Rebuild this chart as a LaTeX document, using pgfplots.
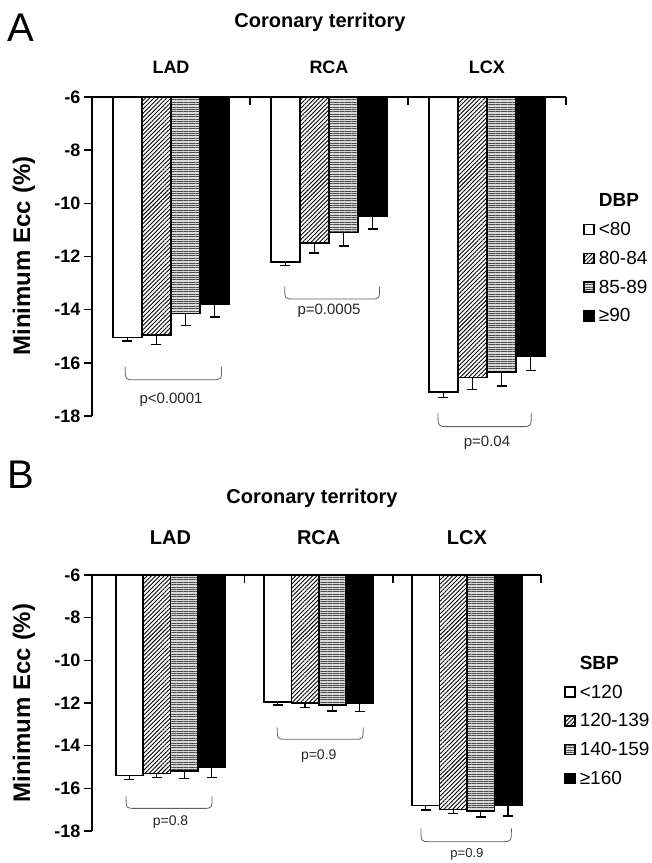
\documentclass[border=0pt]{standalone}
\usepackage{fontspec}
\setmainfont{Liberation Sans}
\usepackage{pgfplots}
\pgfplotsset{compat=1.18}
\usetikzlibrary{patterns.meta}
\newcommand\setfs[1]{\fontsize{#1}{#1}\selectfont}

\pgfplotsset{
  common/.style={
    scale only axis, anchor=south west,
    ybar, ymin=-18, ymax=-6,
    ytick={-18,-16,-14,-12,-10,-8,-6},
    yticklabels={-18,-16,-14,-12,-10,-8,-6},
    xtick={0.5,1.5,2.5}, xticklabels={},
    axis x line=top, axis y line=left,
    axis line style={-, line width=1.5pt},
    tick align=outside, major tick length=8pt,
    tick style={line width=1.5pt, black},
    xtick style={yshift=-8pt},
    yticklabel style={font=\bfseries\setfs{18}},
    clip mode=individual,
    error bars/y dir=minus, error bars/y explicit,
    error bars/error bar style={line width=1.3pt, black},
    error bars/error mark options={rotate=90, line width=1.3pt, mark size=5pt, black},
    legend cell align=left,
    legend style={draw=none, fill=none, font=\setfs{19}, row sep=10pt,
      nodes={inner xsep=4pt}},
    legend image code/.code={\draw[##1, line width=1.4pt] (0pt,-5pt) rectangle (10pt,5pt);},
  },
  s1/.style={draw=black, fill=white, line width=1.6pt},
  s2/.style={draw=black, fill=white, line width=1.6pt,
    postaction={pattern={Lines[angle=45,distance=3pt,line width=0.9pt]}}},
  s3/.style={draw=black, fill=gray!30, line width=1.6pt,
    postaction={pattern={Lines[angle=0,distance=2.4pt,line width=0.9pt]}, pattern color=gray!60!black}},
  s4/.style={draw=black, fill=black, line width=1.6pt},
}
% bracket: x1, x1+r, x2-r, x2, ytop, ybot
\newcommand\brk[6]{%
  \draw[gray!75!black, line width=0.8pt] (axis cs:#1,#5) .. controls (axis cs:#1,#6) .. (axis cs:#2,#6)
    -- (axis cs:#3,#6) .. controls (axis cs:#4,#6) .. (axis cs:#4,#5);}

\begin{document}
\begin{tikzpicture}
\path[use as bounding box] (0,0) rectangle (652pt,863pt);

% Panel A
\node[anchor=west, font=\setfs{40}] at (4pt,835pt) {A};
\node[font=\bfseries\setfs{20}] at (320pt,841pt) {Coronary territory};
\node[rotate=90, font=\bfseries\setfs{24}] at (24pt,607pt) {Minimum Ecc (\%)};
\begin{axis}[common, at={(92pt,447pt)}, width=474pt, height=319pt,
  xmin=-0.5, xmax=2.5, bar width=0.184,
  legend style={at={(axis description cs:1.03,0.71)}, anchor=north west}]
\addlegendimage{empty legend}\addlegendentry{\bfseries DBP}
\addplot[s1, bar shift=-0.276] coordinates {(0,-15.05) +- (0,0.13) (1,-12.2) +- (0,0.15) (2,-17.1) +- (0,0.2)};
\addlegendentry{<80}
\addplot[s2, bar shift=-0.092] coordinates {(0,-14.95) +- (0,0.35) (1,-11.5) +- (0,0.37) (2,-16.55) +- (0,0.45)};
\addlegendentry{80-84}
\addplot[s3, bar shift=0.092] coordinates {(0,-14.15) +- (0,0.45) (1,-11.1) +- (0,0.5) (2,-16.35) +- (0,0.52)};
\addlegendentry{85-89}
\addplot[s4, bar shift=0.276] coordinates {(0,-13.8) +- (0,0.48) (1,-10.5) +- (0,0.47) (2,-15.75) +- (0,0.53)};
\addlegendentry{≥90}
\node[font=\bfseries\setfs{18}, yshift=30pt] at (axis cs:0,-6) {LAD};
\node[font=\bfseries\setfs{18}, yshift=30pt] at (axis cs:1,-6) {RCA};
\node[font=\bfseries\setfs{18}, yshift=30pt] at (axis cs:2,-6) {LCX};
\brk{-0.29}{-0.23}{0.26}{0.32}{-16.15}{-16.64}
\brk{0.72}{0.78}{1.26}{1.32}{-13.14}{-13.6}
\brk{1.69}{1.75}{2.22}{2.28}{-17.88}{-18.4}
\node[font=\setfs{15}, text=gray!30!black] at (axis cs:0,-17.4) {p<0.0001};
\node[font=\setfs{15}, text=gray!30!black] at (axis cs:1,-14.05) {p=0.0005};
\node[font=\setfs{15}, text=gray!30!black] at (axis cs:2,-19.0) {p=0.04};
\end{axis}

% Panel B
\node[anchor=west, font=\setfs{40}] at (4pt,388pt) {B};
\node[font=\bfseries\setfs{20}] at (312pt,365pt) {Coronary territory};
\node[rotate=90, font=\bfseries\setfs{24}] at (24pt,160pt) {Minimum Ecc (\%)};
\begin{axis}[common, at={(92pt,32pt)}, width=449pt, height=256pt,
  xmin=-0.53, xmax=2.5, bar width=0.185,
  legend style={at={(axis description cs:1.045,0.70)}, anchor=north west}]
\addlegendimage{empty legend}\addlegendentry{\bfseries SBP}
\addplot[s1, bar shift=-0.2775] coordinates {(0,-15.4) +- (0,0.2) (1,-11.95) +- (0,0.15) (2,-16.8) +- (0,0.22)};
\addlegendentry{<120}
\addplot[s2, bar shift=-0.0925] coordinates {(0,-15.3) +- (0,0.18) (1,-12.0) +- (0,0.2) (2,-17.0) +- (0,0.18)};
\addlegendentry{120-139}
\addplot[s3, bar shift=0.0925] coordinates {(0,-15.2) +- (0,0.35) (1,-12.1) +- (0,0.27) (2,-17.05) +- (0,0.3)};
\addlegendentry{140-159}
\addplot[s4, bar shift=0.2775] coordinates {(0,-15.0) +- (0,0.5) (1,-12.0) +- (0,0.4) (2,-16.8) +- (0,0.5)};
\addlegendentry{≥160}
\node[font=\bfseries\setfs{20}, yshift=37pt] at (axis cs:0,-6) {LAD};
\node[font=\bfseries\setfs{20}, yshift=37pt] at (axis cs:1,-6) {RCA};
\node[font=\bfseries\setfs{20}, yshift=37pt] at (axis cs:2,-6) {LCX};
\brk{-0.3}{-0.24}{0.22}{0.28}{-16.38}{-16.94}
\brk{0.72}{0.78}{1.24}{1.3}{-13.14}{-13.7}
\brk{1.69}{1.75}{2.24}{2.3}{-17.88}{-18.5}
\node[font=\setfs{14}, text=gray!30!black] at (axis cs:0,-17.6) {p=0.8};
\node[font=\setfs{14}, text=gray!30!black] at (axis cs:1,-14.5) {p=0.9};
\node[font=\setfs{13}, text=gray!30!black] at (axis cs:2,-19.08) {p=0.9};
\end{axis}
\end{tikzpicture}
\end{document}
